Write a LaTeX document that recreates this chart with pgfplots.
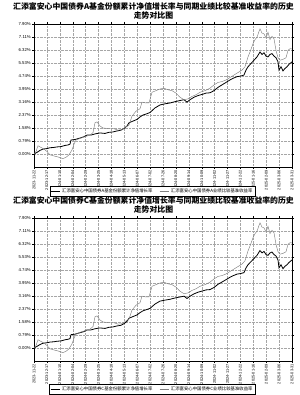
\documentclass[border=0pt]{standalone}
\usepackage{pgfplots}
\pgfplotsset{compat=1.18}
\usepackage{pgfplotstable}
\usepackage{fontspec}
\setmainfont{Liberation Sans}
\newfontfamily\cjk{Noto Sans CJK SC}

\pgfplotstableread{
x y
34 0.00
36 0.15
38 0.50
41 0.40
44 0.30
47 0.15
50 -0.05
54 -0.12
58 -0.18
63 -0.28
66 -0.20
69 -0.05
72 0.25
74 0.60
76 0.85
80 0.95
85 1.05
90 1.15
93 1.30
95 1.90
97 1.95
100 1.70
103 1.58
108 1.55
113 1.55
118 1.45
122 1.48
126 1.65
129 1.75
132 2.30
136 2.60
140 2.75
142 3.15
146 3.10
149 3.10
152 3.75
156 3.85
160 3.95
164 4.00
168 3.90
172 3.85
176 3.70
180 3.45
184 3.30
188 3.35
192 3.50
196 3.60
200 3.75
205 3.85
210 4.00
214 4.20
218 4.35
222 4.40
226 4.50
230 4.65
234 4.80
238 4.95
242 5.10
245 5.30
248 5.90
250 6.20
253 6.70
255 6.95
257 7.10
259 7.45
260 7.60
262 7.35
264 7.30
266 7.05
268 7.40
270 6.95
272 7.15
274 7.00
276 6.30
278 5.85
280 5.70
283 5.75
286 5.85
288 6.30
290 6.40
292 6.38
}\bench

\pgfplotstableread{
x y
34 0.00
37 0.10
40 0.22
43 0.30
47 0.33
50 0.38
54 0.40
57 0.43
61 0.45
65 0.52
68 0.55
70 0.60
71 0.85
75 0.88
80 0.97
84 1.05
87 1.15
91 1.15
95 1.22
100 1.28
105 1.25
109 1.32
113 1.34
117 1.40
121 1.45
124 1.55
127 1.70
129 1.90
133 2.00
137 2.10
140 2.25
143 2.37
147 2.45
150 2.52
155 2.80
160 2.98
165 3.05
170 3.10
175 3.18
180 3.25
184 3.30
187 3.15
190 3.30
194 3.45
198 3.55
202 3.62
206 3.70
210 3.72
214 3.85
218 4.05
222 4.20
226 4.35
230 4.50
233 4.60
237 4.70
241 4.74
244 4.80
246 5.10
248 5.30
251 5.50
254 5.70
257 5.90
259 6.10
260 6.20
262 6.05
264 6.15
266 5.95
268 5.90
270 6.05
272 6.10
274 5.95
276 5.85
278 5.60
279 5.10
281 5.30
283 5.05
285 5.20
287 5.30
289 5.45
292 5.60
}\fundA

\pgfplotstableread{
x y
34 0.00
37 0.10
40 0.21
43 0.29
47 0.32
50 0.36
54 0.38
57 0.41
61 0.43
65 0.50
68 0.53
70 0.57
71 0.81
75 0.84
80 0.93
84 1.00
87 1.10
91 1.10
95 1.17
100 1.22
105 1.19
109 1.26
113 1.28
117 1.34
121 1.38
124 1.48
127 1.62
129 1.81
133 1.91
137 2.01
140 2.15
143 2.26
147 2.34
150 2.41
155 2.67
160 2.85
165 2.91
170 2.96
175 3.04
180 3.10
184 3.15
187 3.01
190 3.15
194 3.29
198 3.39
202 3.46
206 3.53
210 3.55
214 3.68
218 3.87
222 4.01
226 4.15
230 4.30
233 4.39
237 4.49
241 4.53
244 4.58
246 4.87
248 5.06
251 5.25
254 5.44
257 5.63
259 5.83
260 5.92
262 5.78
264 5.87
266 5.68
268 5.63
270 5.78
272 5.83
274 5.68
276 5.59
278 5.35
279 4.87
281 5.06
283 4.82
285 4.97
287 5.06
289 5.20
292 5.35
}\fundC

\pgfplotsset{
  mychart/.style={
    scale only axis, width=258bp, height=143bp,
    xmin=34, xmax=292, ymin=-0.79, ymax=7.90,
    xtick={34,46.9,59.8,72.7,85.6,98.5,111.4,124.3,137.2,150.1,163,175.9,188.8,201.7,214.6,227.5,240.4,253.3,266.2,279.1,292},
    xticklabels={2023-11-22,2023-12-17,2024-01-10,2024-02-04,2024-02-29,2024-03-25,2024-04-18,2024-05-13,2024-06-07,2024-07-02,2024-07-26,2024-08-20,2024-09-14,2024-10-09,2024-11-02,2024-11-27,2024-12-22,2025-01-16,2025-02-09,2025-03-06,2025-03-31},
    ytick={0,0.79,1.58,2.37,3.16,3.95,4.74,5.53,6.32,7.11,7.90},
    yticklabels={0.00\%,0.79\%,1.58\%,2.37\%,3.16\%,3.95\%,4.74\%,5.53\%,6.32\%,7.11\%,7.90\%},
    grid=major,
    major grid style={gray!70, densely dotted, line width=0.35pt},
    axis line style={black, line width=0.5pt},
    tick align=outside, tick style={black, line width=0.3pt}, major tick length=2bp,
    x tick label style={rotate=90, anchor=east, font=\fontsize{3.9}{4}\selectfont, inner sep=1bp},
    y tick label style={font=\fontsize{4.3}{5}\selectfont, inner sep=1bp},
    /pgf/number format/assume math mode=true,
    every axis title/.style={font=\cjk\bfseries\fontsize{7.9}{8.6}\selectfont, align=center, anchor=south, at={(0.5,1)}, inner sep=0pt, yshift=5bp, xshift=-9.5bp},
    legend style={draw=black, line width=0.4pt, font=\cjk\fontsize{4.4}{5}\selectfont, legend columns=2, anchor=north, at={(0.459,0)}, inner sep=0.6bp, /tikz/every even column/.append style={column sep=5bp}},
    legend cell align=left,
    legend image code/.code={\draw[#1] (0bp,0bp) -- (9bp,0bp);},
  }
}

\begin{document}
\begin{tikzpicture}
\useasboundingbox (0bp,0bp) rectangle (300bp,-395bp);
\begin{axis}[mychart, at={(34bp,-167bp)}, anchor=south west,
  title={汇添富安心中国债券A基金份额累计净值增长率与同期业绩比较基准收益率的历史\\走势对比图},
  legend style={yshift=-19bp}]
\addplot[black, line width=0.8pt] table[x=x,y=y]{\fundA};
\addlegendentry{汇添富安心中国债券A基金份额累计净值增长率}
\addplot[gray, line width=0.45pt] table[x=x,y=y]{\bench};
\addlegendentry{汇添富安心中国债券A业绩比较基准收益率}
\end{axis}
\begin{axis}[mychart, at={(34bp,-361bp)}, anchor=south west,
  title={汇添富安心中国债券C基金份额累计净值增长率与同期业绩比较基准收益率的历史\\走势对比图},
  legend style={yshift=-23bp}]
\addplot[black, line width=0.8pt] table[x=x,y=y]{\fundC};
\addlegendentry{汇添富安心中国债券C基金份额累计净值增长率}
\addplot[gray, line width=0.45pt] table[x=x,y=y]{\bench};
\addlegendentry{汇添富安心中国债券C业绩比较基准收益率}
\end{axis}
\end{tikzpicture}
\end{document}
